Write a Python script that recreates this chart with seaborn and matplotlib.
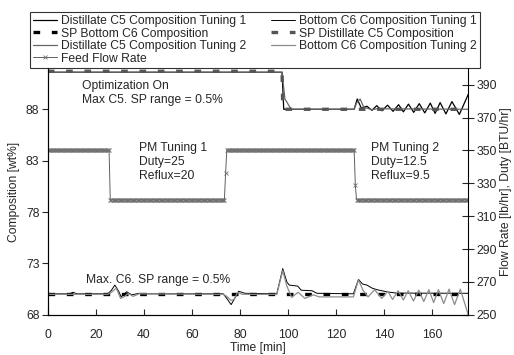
import numpy as np
import pandas as pd
import matplotlib
matplotlib.use("Agg")
import matplotlib.pyplot as plt
import seaborn as sns

# Top (distillate C5) curves, left axis [wt%]
dist_t1_t = [0, 97.5, 98.2, 127.5, 128.8, 130.5, 132.8, 134.9, 136.9, 139.1, 141.4, 143.7, 146.0,
             148.0, 150.1, 152.3, 154.6, 156.9, 159.2, 161.2, 163.3, 165.7, 168.2, 171.3, 175]
dist_t1_v = [91.6, 91.6, 88.0, 88.0, 89.0, 88.1, 88.3, 87.9, 88.35, 87.85, 88.4, 87.8, 88.45,
             87.75, 88.5, 87.7, 88.55, 87.65, 88.6, 87.6, 88.65, 87.55, 88.75, 87.5, 89.45]

dist_t2_t = [0, 97.5, 98.7, 99.5, 100.5, 101.5, 127.5, 128.5, 130.0, 131.5, 133.0, 135.0, 137.0, 175]
dist_t2_v = [91.6, 91.6, 89.0, 88.7, 88.3, 88.0, 88.0, 88.6, 89.0, 88.2, 88.1, 87.95, 88.05, 88.0]

sp_dist_t = [0, 97.5, 97.8, 175]
sp_dist_v = [91.7, 91.7, 88.0, 88.0]

# Bottom (C6) curves, left axis [wt%]
bot_t1_t = [0, 9, 10.5, 12, 25, 26.5, 27.9, 29.5, 30.5, 32.8, 35, 38, 40, 73, 74.5, 76.3, 77.8,
            79.5, 82, 95.3, 97.8, 99.5, 100.5, 104, 105.5, 110, 112, 127.2, 129.3, 131, 132.8,
            135, 137, 141, 145, 175]
bot_t1_v = [70.05, 70.05, 70.2, 70.05, 70.05, 70.4, 70.9, 70.3, 69.75, 70.25, 69.95, 70.1, 70.05,
            70.05, 69.6, 69.0, 69.6, 70.3, 70.1, 70.05, 72.5, 71.2, 70.9, 70.8, 70.4, 70.35, 70.1,
            70.05, 71.45, 71.0, 70.9, 70.6, 70.45, 70.25, 70.12, 70.1]

bot_t2_t = [0, 25, 26.5, 28.5, 30.3, 32, 33.5, 35.5, 38, 73, 74.5, 76.3, 77.5, 79, 81, 95.3, 97.8,
            99.5, 101.5, 104.2, 107, 110.5, 113, 127.2, 129.3, 131.2, 133.3, 136, 139, 141.5,
            143.5, 145.8, 148, 150, 152.2, 154.4, 156.5, 158.6, 160.6, 162.6, 164.8, 167, 169.3,
            171.7, 175]
bot_t2_v = [70.0, 70.0, 70.2, 70.6, 69.6, 69.8, 70.1, 69.8, 70.05, 70.0, 69.8, 69.4, 69.5, 70.2,
            70.0, 70.0, 72.3, 70.8, 69.7, 70.2, 69.6, 69.95, 69.75, 69.75, 71.4, 70.4, 69.75,
            70.45, 69.6, 70.3, 69.5, 70.35, 69.45, 70.35, 69.35, 70.4, 69.3, 70.45, 69.2, 70.45,
            69.1, 70.5, 69.0, 70.5, 68.0]

sp_bot_t = [0, 175]
sp_bot_v = [70.0, 70.0]

# Feed flow rate, right axis, sampled every 0.5 min
feed_t = np.arange(0, 175.5, 0.5)
feed_v = [350.0] * 52 + [320.0] * 96 + [336.0] + [350.0] * 107 + [329.0] + [320.0] * 94

FS = 8.7

sns.set_style("ticks")
plt.rcParams["font.family"] = ["Liberation Sans", "DejaVu Sans"]
plt.rcParams["font.size"] = FS

fig = plt.figure(figsize=(5.14, 3.55), dpi=100)
ax = fig.add_axes([0.093, 0.113, 0.818, 0.695])
ax2 = ax.twinx()

sns.lineplot(x=dist_t1_t, y=dist_t1_v, ax=ax, color="black", lw=0.9, estimator=None,
             label="Distillate C5 Composition Tuning 1")
sns.lineplot(x=sp_bot_t, y=sp_bot_v, ax=ax, color="black", lw=2.4, linestyle=(0, (2, 3.5)),
             estimator=None, label="SP Bottom C6 Composition")
sns.lineplot(x=dist_t2_t, y=dist_t2_v, ax=ax, color="#666666", lw=0.9, estimator=None,
             label="Distillate C5 Composition Tuning 2")
sns.lineplot(x=bot_t1_t, y=bot_t1_v, ax=ax, color="black", lw=0.7, estimator=None,
             label="Bottom C6 Composition Tuning 1")
sns.lineplot(x=sp_dist_t, y=sp_dist_v, ax=ax, color="#555555", lw=2.4, linestyle=(0, (2, 3.5)),
             estimator=None, label="SP Distillate C5 Composition")
sns.lineplot(x=bot_t2_t, y=bot_t2_v, ax=ax, color="#8c8c8c", lw=0.9, estimator=None,
             label="Bottom C6 Composition Tuning 2")
sns.lineplot(x=feed_t, y=feed_v, ax=ax2, color="#606060", lw=0.7, marker="x", markersize=3.5,
             markeredgewidth=0.6, markeredgecolor="#707070", estimator=None,
             label="Feed Flow Rate")

ax.set_xlim(0, 175)
ax.set_ylim(68, 92)
ax.set_xticks(range(0, 161, 20))
ax.set_yticks([68, 73, 78, 83, 88])
ax2.set_ylim(250, 400)
ax2.set_yticks(range(250, 391, 20))

ax.set_xlabel("Time [min]", fontsize=FS, labelpad=1)
ax.set_ylabel("Composition [wt%]", fontsize=FS, labelpad=4)
ax2.set_ylabel("Flow Rate [lb/hr], Duty [BTU/hr]", fontsize=FS, labelpad=2)

for a in (ax, ax2):
    a.spines["top"].set_visible(False)
    for s in a.spines.values():
        s.set_linewidth(0.8)
        s.set_color("black")
ax.spines["right"].set_visible(False)
ax.tick_params(axis="x", direction="in", length=4, width=0.8, pad=10, labelsize=FS)
ax.tick_params(axis="y", direction="out", length=4, width=0.8, pad=2, labelsize=FS)
ax2.tick_params(axis="y", direction="inout", length=8, width=0.8, pad=2, labelsize=FS)

ax.text(14.2, 90.25, "Optimization On", fontsize=FS, va="center")
ax.text(14.2, 88.9, "Max C5. SP range = 0.5%", fontsize=FS, va="center")
ax.text(37.9, 84.25, "PM Tuning 1", fontsize=FS, va="center")
ax.text(37.9, 82.9, "Duty=25", fontsize=FS, va="center")
ax.text(37.9, 81.5, "Reflux=20", fontsize=FS, va="center")
ax.text(134.5, 84.25, "PM Tuning 2", fontsize=FS, va="center")
ax.text(134.5, 82.9, "Duty=12.5", fontsize=FS, va="center")
ax.text(134.5, 81.5, "Reflux=9.5", fontsize=FS, va="center")
ax.text(15.8, 71.4, "Max. C6. SP range = 0.5%", fontsize=FS, va="center")

h1, l1 = ax.get_legend_handles_labels()
h2, l2 = ax2.get_legend_handles_labels()
ax.get_legend().remove()
ax2.get_legend().remove()
handles = h1[:3] + h2 + h1[3:]
labels = l1[:3] + l2 + l1[3:]
leg = fig.legend(handles, labels, ncol=2, loc="upper left", bbox_to_anchor=(0.058, 0.966),
                 frameon=True, fancybox=False, edgecolor="black", fontsize=FS,
                 handlelength=2.0, handletextpad=0.3, labelspacing=0.04, columnspacing=2.1,
                 borderpad=0.25, borderaxespad=0)
leg.get_frame().set_linewidth(0.8)

fig.savefig("out.png", dpi=100)
